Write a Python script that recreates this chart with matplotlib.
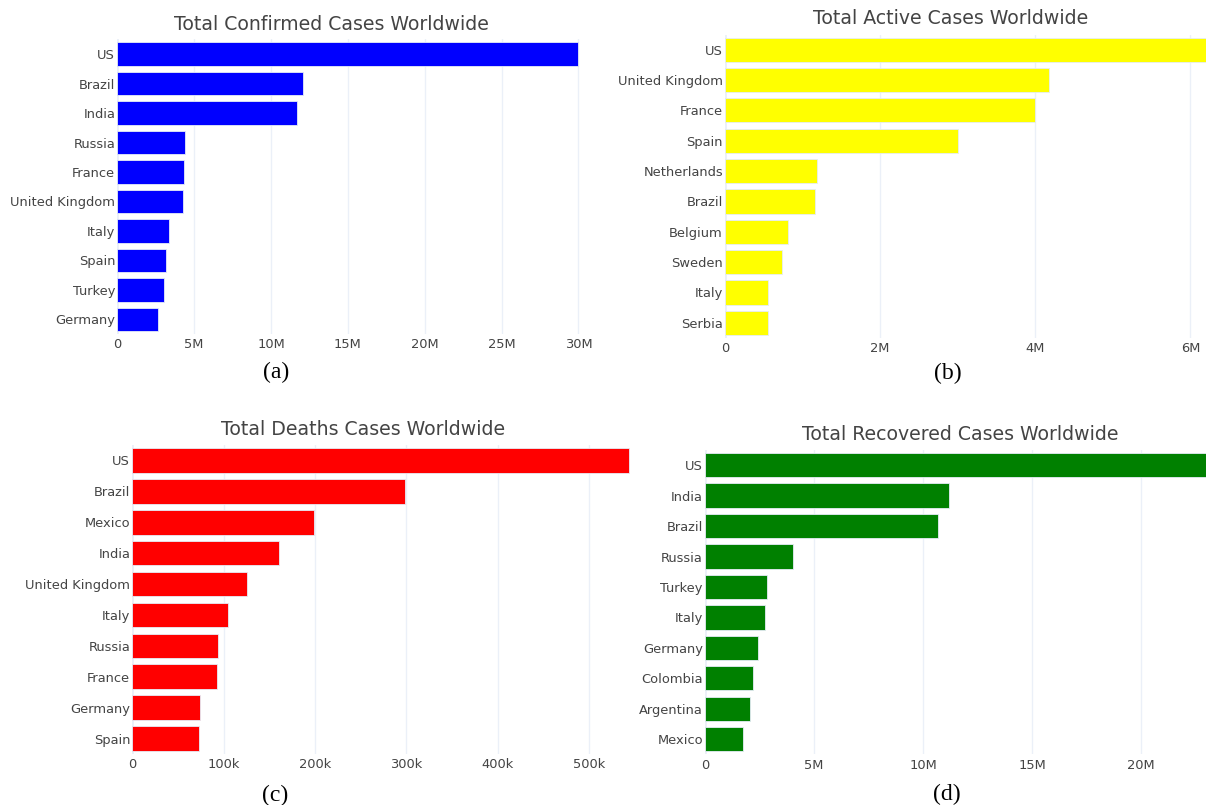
import matplotlib
matplotlib.use('Agg')
import matplotlib.pyplot as plt
from matplotlib.ticker import FixedLocator

# Top 10 countries per category
confirmed_countries = ['US', 'Brazil', 'India', 'Russia', 'France', 'United Kingdom',
                       'Italy', 'Spain', 'Turkey', 'Germany']
confirmed_values = [29.96e6, 12.1e6, 11.7e6, 4.40e6, 4.32e6, 4.27e6, 3.37e6, 3.17e6, 3.02e6, 2.65e6]

active_countries = ['US', 'United Kingdom', 'France', 'Spain', 'Netherlands', 'Brazil',
                    'Belgium', 'Sweden', 'Italy', 'Serbia']
active_values = [6.45e6, 4.17e6, 3.99e6, 3.0e6, 1.19e6, 1.16e6, 0.81e6, 0.74e6, 0.56e6, 0.56e6]

deaths_countries = ['US', 'Brazil', 'Mexico', 'India', 'United Kingdom', 'Italy',
                    'Russia', 'France', 'Germany', 'Spain']
deaths_values = [544e3, 298e3, 198.7e3, 160e3, 126e3, 105e3, 93.8e3, 92.4e3, 74.6e3, 73.2e3]

recovered_countries = ['US', 'India', 'Brazil', 'Russia', 'Turkey', 'Italy', 'Germany',
                       'Colombia', 'Argentina', 'Mexico']
recovered_values = [23.6e6, 11.2e6, 10.68e6, 4.04e6, 2.86e6, 2.75e6, 2.45e6, 2.22e6, 2.05e6, 1.75e6]

GRID = '#EBF0F8'
TXT = '#444444'

fig = plt.figure(figsize=(12.06, 8.05), dpi=100)
W, H = 1206, 805


def box(left, right, top, bottom):
    return [left / W, 1 - bottom / H, (right - left) / W, (bottom - top) / H]


paineis = [
    # (rect, countries, values, color, xmax, ticks, ticklabels, title, title_xy, caption_xy, caption)
    (box(117.3, 600, 39.3, 334.2), confirmed_countries, confirmed_values, '#0000FF', 31.4e6,
     [0, 5e6, 10e6, 15e6, 20e6, 25e6, 30e6], ['0', '5M', '10M', '15M', '20M', '25M', '30M'],
     'Total Confirmed Cases Worldwide', (331, 24), (276, 372), '(a)'),
    (box(725, 1206, 34.5, 337.9), active_countries, active_values, '#FFFF00', 6.20e6,
     [0, 2e6, 4e6, 6e6], ['0', '2M', '4M', '6M'],
     'Total Active Cases Worldwide', (951, 19), (948, 373), '(b)'),
    (box(132.3, 644, 444.8, 754.2), deaths_countries, deaths_values, '#FF0000', 560e3,
     [0, 100e3, 200e3, 300e3, 400e3, 500e3], ['0', '100k', '200k', '300k', '400k', '500k'],
     'Total Deaths Cases Worldwide', (363, 429), (275, 795), '(c)'),
    (box(705, 1206, 450, 754.4), recovered_countries, recovered_values, '#008000', 22.98e6,
     [0, 5e6, 10e6, 15e6, 20e6], ['0', '5M', '10M', '15M', '20M'],
     'Total Recovered Cases Worldwide', (960, 434), (947, 794), '(d)'),
]

for rect, paises, valores, cor, xmax, ticks, rotulos, titulo, tpos, cpos, legenda in paineis:
    ax = fig.add_axes(rect)
    pos = list(range(len(paises)))
    ax.barh(pos, valores, height=0.8, color=cor, edgecolor='#E5ECF6', linewidth=0.6, zorder=3)
    ax.set_ylim(len(paises) - 0.5, -0.5)
    ax.set_xlim(0, xmax)
    ax.set_yticks(pos)
    ax.set_yticklabels(paises, fontsize=9.4, color=TXT)
    ax.xaxis.set_major_locator(FixedLocator(ticks))
    ax.set_xticklabels(rotulos, fontsize=9.4, color=TXT)
    ax.tick_params(axis='x', length=0, pad=3)
    ax.tick_params(axis='y', length=0, pad=1.5)
    ax.grid(axis='x', color=GRID, linewidth=1, zorder=0)
    ax.axvline(0, color=GRID, linewidth=2, zorder=1)
    for s in ax.spines.values():
        s.set_visible(False)

    # Titulo do grafico e legenda da figura
    fig.text(tpos[0] / W, 1 - tpos[1] / H, titulo, ha='center', va='center',
             fontsize=13.6, color=TXT)
    fig.text(cpos[0] / W, 1 - cpos[1] / H, legenda, ha='center', va='center',
             fontsize=17, family='Liberation Serif', color='black')

fig.savefig('out.png', dpi=100)
